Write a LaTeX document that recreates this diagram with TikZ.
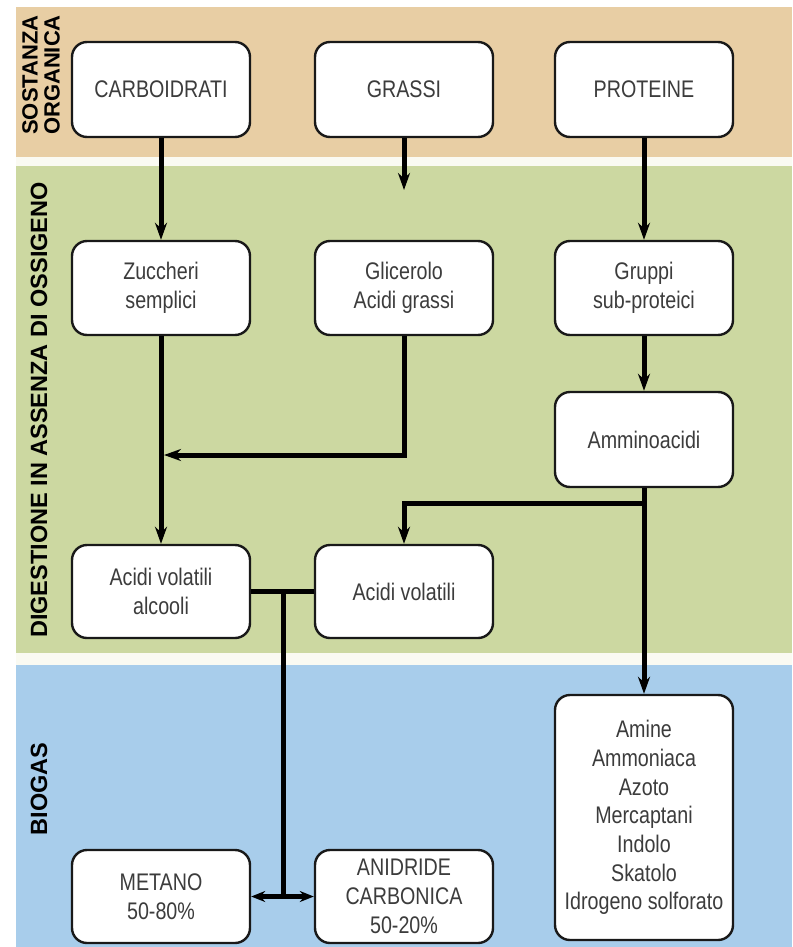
\documentclass[tikz,border=0pt]{standalone}
\usepackage{fontspec}
\setmainfont{Liberation Sans}[FakeStretch=0.82]
\newfontfamily\labfont{Liberation Sans}
\usetikzlibrary{arrows.meta}
\definecolor{beige}{RGB}{232,206,164}
\definecolor{sage}{RGB}{204,216,161}
\definecolor{sky}{RGB}{168,205,235}
\definecolor{stripe}{RGB}{250,250,242}
\definecolor{txt}{RGB}{60,60,60}
\begin{document}
\begin{tikzpicture}[x=1pt,y=-1pt,
  box/.style={draw=black!90, line width=2.4pt, rounded corners=15pt, fill=white,
    minimum width=178pt, inner sep=0pt, text=txt, align=center,
    font=\fontsize{24}{28.7}\selectfont},
  conn/.style={line width=5pt},
  arr/.style={conn, -{Stealth[length=17pt,width=12pt]}},
  lab/.style={rotate=90, font=\labfont\bfseries\fontsize{22}{22}\selectfont, align=center, text=black},
  biglab/.style={lab, font=\labfont\bfseries\fontsize{23.5}{23.5}\selectfont}
]
\useasboundingbox (0,0) rectangle (792,947);
% bands
\fill[white] (0,0) rectangle (792,947);
\fill[beige] (16,7) rectangle (792,157);
\fill[stripe] (16,157) rectangle (792,166);
\fill[sage] (16,166) rectangle (792,653);
\fill[stripe] (16,653) rectangle (792,665);
\fill[sky] (16,665) rectangle (792,947);

% side labels
\node[lab] (l1) at (41,75) {SOSTANZA\\ORGANICA};
\node[biglab] (l2) at (39,410) {DIGESTIONE IN ASSENZA DI OSSIGENO};
\node[biglab] (l3) at (39,789) {BIOGAS};

% boxes
\node[box, minimum height=95pt] (carb) at (161,89.5) {CARBOIDRATI};
\node[box, minimum height=95pt] (gras) at (404,89.5) {GRASSI};
\node[box, minimum height=95pt] (prot) at (644,89.5) {PROTEINE};
\node[box, minimum height=94pt] (zucc) at (161,288) {Zuccheri\\semplici};
\node[box, minimum height=94pt] (glic) at (404,288) {Glicerolo\\Acidi grassi};
\node[box, minimum height=94pt] (grup) at (644,288) {Gruppi\\sub-proteici};
\node[box, minimum height=95pt] (ammi) at (644,439.5) {Amminoacidi};
\node[box, minimum height=93pt] (acva) at (161,591.5) {Acidi volatili\\alcooli};
\node[box, minimum height=93pt] (acv) at (404,591.5) {Acidi volatili};
\node[box, minimum height=245pt] (amin) at (644,817.5) {Amine\\Ammoniaca\\Azoto\\Mercaptani\\Indolo\\Skatolo\\Idrogeno solforato};
\node[box, minimum height=93pt] (met) at (161,896.5) {METANO\\50-80\%};
\node[box, minimum height=93pt] (co2) at (404,896.5) {ANIDRIDE\\CARBONICA\\50-20\%};

% helper coordinates
\coordinate (gend) at (404,190);
\coordinate (gc) at (404,455);
\coordinate (gtip) at (164,455);
\coordinate (ab) at (644,503);
\coordinate (ac) at (404,503);
\coordinate (j1) at (283,591.5);
\coordinate (j2) at (283,896.5);

% connectors
\draw[arr] (carb.south) -- (zucc.north);
\draw[arr] (gras.south) -- (gend);
\draw[arr] (prot.south) -- (grup.north);
\draw[arr] (grup.south) -- (ammi.north);
\draw[arr] (zucc.south) -- (acva.north);
\draw[arr, line join=miter] (glic.south) -- (gc) -- (gtip);
\draw[arr] (ammi.south) -- (amin.north);
\draw[arr, line join=miter] (ab) -- (ac) -- (acv.north);
\draw[conn] (acva.east) -- (acv.west);
\draw[conn] (j1) -- (j2);
\draw[conn, {Stealth[length=14pt,width=11pt]}-{Stealth[length=14pt,width=11pt]}] (met.east) -- (co2.west);
\end{tikzpicture}
\end{document}
